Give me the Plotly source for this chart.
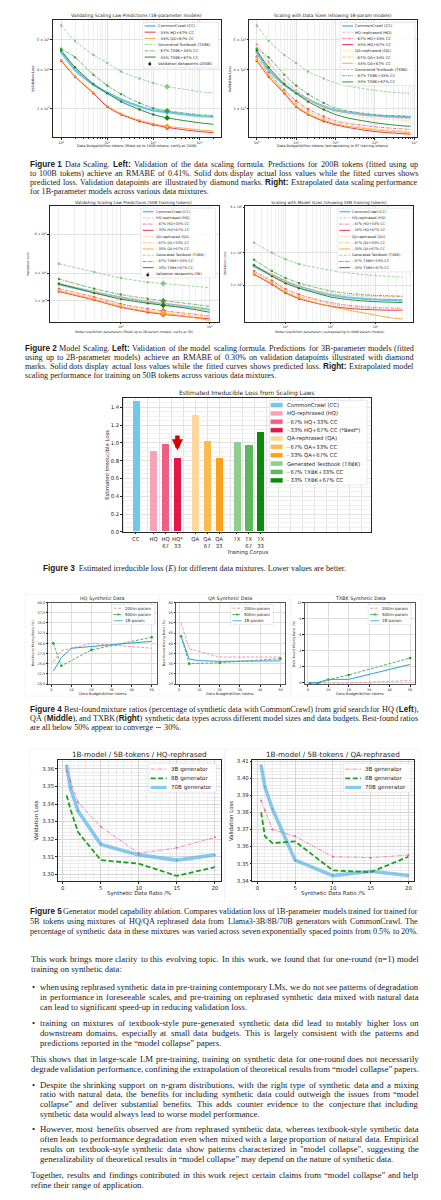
import plotly.graph_objects as go

W, H = 441, 1200
SANS = "DejaVu Sans"
SERIF = "Liberation Serif"
INK = "#262626"
GRID = "#e2e2e2"
MINOR = "#f0f0f0"

# ---------------- data ----------------
# Figure 1: validation loss vs data budget (billion tokens), 1B-param models
f1l_x = [1, 2, 5, 10, 20, 50, 100, 200, 500, 1000, 2000]
f1l_cc = [4.56, 4.00, 3.58, 3.38, 3.21, 3.05, 2.96, 2.92, 2.87, 2.84, 2.82]
f1l_hq33 = [4.28, 3.80, 3.36, 3.04, 2.87, 2.73, 2.66, 2.61, 2.56, 2.53, 2.51]
f1l_qa33 = [4.30, 3.82, 3.38, 3.06, 2.89, 2.75, 2.68, 2.63, 2.59, 2.56, 2.54]
f1l_tx = [5.56, 4.96, 4.47, 4.21, 3.95, 3.75, 3.63, 3.53, 3.46, 3.40, 3.37]
f1l_tx67 = [4.68, 4.39, 3.86, 3.56, 3.34, 3.13, 3.01, 2.95, 2.90, 2.87, 2.85]
f1l_tx33 = [4.62, 4.08, 3.60, 3.36, 3.16, 2.98, 2.87, 2.80, 2.74, 2.70, 2.67]

f1r_x = [1, 2, 5, 10, 20, 50, 100, 200, 500, 1000, 2000, 5000, 8000]
f1r_cc = [4.56, 4.00, 3.58, 3.38, 3.21, 3.05, 2.96, 2.92, 2.87, 2.85, 2.83, 2.82, 2.81]
f1r_hq = [4.84, 4.25, 3.72, 3.44, 3.23, 3.05, 2.96, 2.91, 2.86, 2.83, 2.81, 2.79, 2.78]
f1r_hq67 = [4.42, 3.92, 3.45, 3.18, 2.99, 2.83, 2.74, 2.69, 2.65, 2.62, 2.60, 2.58, 2.57]
f1r_hq33 = [4.28, 3.80, 3.36, 3.04, 2.87, 2.73, 2.66, 2.61, 2.56, 2.53, 2.51, 2.49, 2.48]
f1r_qa = [4.72, 4.18, 3.66, 3.40, 3.19, 3.01, 2.92, 2.87, 2.82, 2.79, 2.77, 2.75, 2.74]
f1r_qa67 = [4.38, 3.88, 3.41, 3.12, 2.94, 2.79, 2.71, 2.66, 2.61, 2.58, 2.56, 2.54, 2.53]
f1r_qa33 = [4.30, 3.82, 3.38, 3.06, 2.89, 2.75, 2.68, 2.63, 2.59, 2.56, 2.54, 2.52, 2.51]
f1r_tx = [5.56, 4.96, 4.47, 4.21, 3.95, 3.75, 3.63, 3.55, 3.48, 3.44, 3.40, 3.37, 3.36]
f1r_tx67 = [4.68, 4.39, 3.86, 3.56, 3.34, 3.13, 3.01, 2.95, 2.90, 2.87, 2.85, 2.84, 2.83]
f1r_tx33 = [4.62, 4.08, 3.60, 3.36, 3.16, 2.98, 2.87, 2.80, 2.74, 2.70, 2.67, 2.64, 2.63]

# Figure 2: validation loss vs model size (billion params), 50B tokens
f2l_x = [0.2, 0.5, 1, 2, 3, 5, 10]
f2l_cc = [3.55, 3.28, 3.10, 2.96, 2.90, 2.83, 2.73]
f2l_hq = [3.60, 3.30, 3.12, 2.99, 2.93, 2.86, 2.77]
f2l_hq67 = [3.40, 3.12, 2.90, 2.76, 2.70, 2.64, 2.56]
f2l_hq33 = [3.30, 3.02, 2.80, 2.66, 2.60, 2.55, 2.48]
f2l_qa = [3.58, 3.28, 3.08, 2.95, 2.89, 2.82, 2.72]
f2l_qa67 = [3.36, 3.08, 2.86, 2.72, 2.66, 2.60, 2.52]
f2l_qa33 = [3.32, 3.04, 2.82, 2.68, 2.62, 2.56, 2.44]
f2l_tx = [4.41, 4.05, 3.80, 3.64, 3.59, 3.52, 3.44]
f2l_tx67 = [3.76, 3.40, 3.20, 3.06, 3.00, 2.93, 2.83]
f2l_tx33 = [3.58, 3.25, 3.05, 2.92, 2.86, 2.79, 2.66]

f2r_x = [0.2, 0.5, 1, 2, 5, 10, 20, 50, 100, 200, 400]
f2r_cc = [3.55, 3.28, 3.10, 2.96, 2.83, 2.75, 2.70, 2.66, 2.64, 2.63, 2.62]
f2r_hq = [3.60, 3.30, 3.12, 2.99, 2.86, 2.79, 2.75, 2.73, 2.72, 2.71, 2.71]
f2r_hq67 = [3.40, 3.12, 2.90, 2.76, 2.64, 2.57, 2.52, 2.48, 2.46, 2.45, 2.44]
f2r_hq33 = [3.30, 3.02, 2.80, 2.66, 2.55, 2.49, 2.45, 2.42, 2.41, 2.40, 2.40]
f2r_qa = [3.58, 3.28, 3.08, 2.95, 2.83, 2.77, 2.74, 2.72, 2.71, 2.70, 2.70]
f2r_qa67 = [3.36, 3.08, 2.86, 2.72, 2.61, 2.54, 2.49, 2.45, 2.43, 2.41, 2.40]
f2r_qa33 = [3.32, 3.04, 2.82, 2.68, 2.56, 2.48, 2.42, 2.35, 2.30, 2.25, 2.22]
f2r_tx = [4.38, 4.00, 3.78, 3.62, 3.50, 3.42, 3.36, 3.30, 3.27, 3.24, 3.22]
f2r_tx67 = [3.76, 3.40, 3.20, 3.06, 2.93, 2.85, 2.80, 2.76, 2.74, 2.73, 2.72]
f2r_tx33 = [3.58, 3.25, 3.05, 2.92, 2.79, 2.70, 2.65, 2.61, 2.59, 2.58, 2.57]

# Figure 3: estimated irreducible loss
corpus_pos = [0, 1.5, 2.5, 3.5, 5, 6, 7, 8.5, 9.5, 10.5]
corpus_tick = ["CC", "HQ", "HQ<br>67", "HQ*<br>33", "QA", "QA<br>67", "QA<br>33",
               "TX", "TX<br>67", "TX<br>33"]
corpus_loss = [1.467, 0.90, 0.983, 0.827, 1.31, 1.013, 0.827, 1.01, 0.97, 1.117]
corpus_name = ["CommonCrawl (CC)", "HQ-rephrased (HQ)", "- 67% HQ+33% CC",
               "- 33% HQ+67% CC (*Best*)", "QA-rephrased (QA)", "- 67% QA+33% CC",
               "- 33% QA+67% CC", "Generated Textbook (TXBK)", "- 67% TXBK+33% CC",
               "- 33% TXBK+67% CC"]

# Figure 4: best-found mixing ratio (%) vs data budget
f4_x = [1, 5, 10, 20, 50]
hq_200m = [25.5, 28.2, 28.8, 30.0, 28.8]
hq_500m = [30.0, 24.5, None, 28.4, 31.5]
hq_1b = [23.2, 26.5, 28.8, 29.2, 30.5]
qa_200m = [50.0, 37.4, None, 33.3, 33.3]
qa_500m = [43.5, 30.0, None, 30.5, 32.5]
qa_1b = [43.5, 32.3, 31.5, 31.2, 31.4]
tx_200m = [0.0, 0.0, 0.0, 0.0, 0.3]
tx_500m = [0.0, 0.0, 0.4, 1.0, 3.1]
tx_1b = [0.0, 0.05, 0.45, 0.45, 2.3]

# Figure 5: generator size ablation
f5_x = [0.5, 1, 2, 5, 10, 15, 20]
hq_3b = [3.359, 3.353, 3.341, 3.327, 3.312, 3.315, 3.321]
hq_8b = [3.345, 3.337, 3.324, 3.308, 3.306, 3.299, 3.304]
hq_70b = [3.362, 3.349, 3.336, 3.317, 3.311, 3.308, 3.311]
qa_3b = [3.387, 3.381, 3.370, 3.366, 3.354, 3.3535, 3.355]
qa_8b = [3.380, 3.366, 3.362, 3.363, 3.346, 3.345, 3.354]
qa_70b = [3.4075, 3.395, 3.382, 3.352, 3.343, 3.3455, 3.343]

# page text; §...§ marks the bold sans-serif labels
cap1 = ["§Figure 1§ Data Scaling. §Left:§ Validation of the data scaling formula. Predictions for 200B tokens (fitted using up",
        "to 100B tokens) achieve an RMABE of 0.41%. Solid dots display actual loss values while the fitted curves shows",
        "predicted loss. Validation datapoints are illustrated by diamond marks. §Right:§ Extrapolated data scaling performance",
        "for 1B-parameter models across various data mixtures."]
cap2 = ["§Figure 2§ Model Scaling. §Left:§ Validation of the model scaling formula. Predictions for 3B-parameter models (fitted",
        "using up to 2B-parameter models) achieve an RMABE of 0.30% on validation datapoints illustrated with diamond",
        "marks. Solid dots display actual loss values while the fitted curves shows predicted loss. §Right:§ Extrapolated model",
        "scaling performance for training on 50B tokens across various data mixtures."]
cap3 = "§Figure 3§  Estimated irreducible loss (<i>E</i>) for different data mixtures. Lower values are better."
cap4 = ["§Figure 4§ Best-found mixture ratios (percentage of synthetic data with CommonCrawl) from grid search for HQ (§Left§),",
        "QA (§Middle§), and TXBK (§Right§) synthetic data types across different model sizes and data budgets. Best-found ratios",
        "are all below 50% appear to converge \u223c 30%."]
cap5 = ["§Figure 5§ Generator model capability ablation. Compares validation loss of 1B-parameter models trained for trained for",
        "5B tokens using mixtures of HQ/QA rephrased data from Llama3-3B/8B/70B generators with CommonCrawl. The",
        "percentage of synthetic data in these mixtures was varied across seven exponentially spaced points from 0.5% to 20%."]
body1 = ["This work brings more clarity to this evolving topic. In this work, we found that for one-round (n=1) model",
         "training on synthetic data:"]
bul1 = ["when using rephrased synthetic data in pre-training contemporary LMs, we do not see patterns of degradation",
        "in performance in foreseeable scales, and pre-training on rephrased synthetic data mixed with natural data",
        "can lead to significant speed-up in reducing validation loss."]
bul2 = ["training on mixtures of textbook-style pure-generated synthetic data did lead to notably higher loss on",
        "downstream domains, especially at small data budgets. This is largely consistent with the patterns and",
        "predictions reported in the \u201cmodel collapse\u201d papers."]
body2 = ["This shows that in large-scale LM pre-training, training on synthetic data for one-round does not necessarily",
         "degrade validation performance, confining the extrapolation of theoretical results from \u201cmodel collapse\u201d papers."]
bul3 = ["Despite the shrinking support on n-gram distributions, with the right type of synthetic data and a mixing",
        "ratio with natural data, the benefits for including synthetic data could outweigh the issues from \u201cmodel",
        "collapse\u201d and deliver substantial benefits. This adds counter evidence to the conjecture that including",
        "synthetic data would always lead to worse model performance."]
bul4 = ["However, most benefits observed are from rephrased synthetic data, whereas textbook-style synthetic data",
        "often leads to performance degradation even when mixed with a large proportion of natural data. Empirical",
        "results on textbook-style synthetic data show patterns characterized in \"model collapse\", suggesting the",
        "generalizability of theoretical results in \u201cmodel collapse\u201d may depend on the nature of synthetic data."]
body3 = ["Together, results and findings contributed in this work reject certain claims from \u201cmodel collapse\u201d and help",
         "refine their range of application."]

# ---------------- styles ----------------
STY = {
    "CC": dict(color="#6cc4e8", width=2.2, dash="solid"),
    "HQ": dict(color="#f59ab3", width=0.8, dash="3px,1.5px"),
    "HQ67": dict(color="#e94f7c", width=0.8, dash="3px,1px,1px,1px"),
    "HQ33": dict(color="#dc1d45", width=0.9, dash="solid"),
    "QA": dict(color="#ffd28c", width=0.8, dash="3px,1.5px"),
    "QA67": dict(color="#f7b54a", width=0.8, dash="3px,1px,1px,1px"),
    "QA33": dict(color="#ffa318", width=0.9, dash="solid"),
    "TX": dict(color="#7ccd7c", width=0.8, dash="3px,1.5px"),
    "TX67": dict(color="#36a336", width=0.8, dash="3px,1px,1px,1px"),
    "TX33": dict(color="#17801a", width=0.9, dash="solid"),
}
NAME = {"CC": "CommonCrawl (CC)", "HQ": "HQ-rephrased (HQ)", "HQ67": "- 67% HQ+33% CC",
        "HQ33": "- 33% HQ+67% CC", "QA": "QA-rephrased (QA)", "QA67": "- 67% QA+33% CC",
        "QA33": "- 33% QA+67% CC", "TX": "Generated Textbook (TXBK)",
        "TX67": "- 67% TXBK+33% CC", "TX33": "- 33% TXBK+67% CC"}
BAR_COL = ["#72c8ea", "#f5a3b5", "#ee5f85", "#e3174a", "#ffd79d", "#fbbc4d", "#fba21c",
           "#8fce8f", "#5db75d", "#0b8a0b"]

fig = go.Figure()
LAY = {}
SHAPES = []
ANN = []


def pid(i):
    return ("x" if i == 1 else f"x{i}", "y" if i == 1 else f"y{i}")


def axes(i, bx, by, xkw, ykw, tick=3.5):
    xid, yid = pid(i)
    suf = "" if i == 1 else str(i)
    base = dict(showline=True, mirror=True, linecolor=INK, linewidth=0.6, ticks="outside",
                ticklen=1.8, tickwidth=0.5, tickcolor=INK, showgrid=True, gridcolor=GRID,
                gridwidth=0.5, zeroline=False, fixedrange=True,
                tickfont=dict(family=SANS, size=tick, color=INK))
    xa = dict(base, domain=[bx[0] / W, bx[1] / W], anchor=yid)
    xa.update(xkw)
    ya = dict(base, domain=[1 - by[1] / H, 1 - by[0] / H], anchor=xid)
    ya.update(ykw)
    LAY["xaxis" + suf] = xa
    LAY["yaxis" + suf] = ya


def T(x, y, s, size, fam=SANS, anchor="center", angle=0, color=INK):
    ANN.append(dict(x=x / W, y=1 - y / H, xref="paper", yref="paper", text=s, showarrow=False,
                    xanchor=anchor, yanchor="middle", textangle=angle, borderpad=0,
                    borderwidth=0, font=dict(family=fam, size=size, color=color)))


def frame(x0, y0, x1, y1, color="#d4d4d4", fill="rgba(255,255,255,0.85)", layer="above"):
    SHAPES.append(dict(type="rect", xref="paper", yref="paper", x0=x0 / W, x1=x1 / W,
                       y0=1 - y1 / H, y1=1 - y0 / H, fillcolor=fill,
                       line=dict(color=color, width=0.5), layer=layer))


def seg(x0, x1, y, color, width, dash="solid", opacity=1):
    SHAPES.append(dict(type="line", xref="paper", yref="paper", x0=x0 / W, x1=x1 / W,
                       y0=1 - y / H, y1=1 - y / H, opacity=opacity, layer="above",
                       line=dict(color=color, width=width, dash=dash)))


def dot(cx, cy, r, color):
    SHAPES.append(dict(type="circle", xref="paper", yref="paper", x0=(cx - r) / W,
                       x1=(cx + r) / W, y0=1 - (cy + r) / H, y1=1 - (cy - r) / H,
                       fillcolor=color, line=dict(width=0), layer="above"))


def line(i, x, y, color, width, dash="solid", shape="spline", msize=0, mcolor=None,
         opacity=1, mode="lines", symbol="circle", err=None):
    xid, yid = pid(i)
    fig.add_trace(go.Scatter(x=x, y=y, xaxis=xid, yaxis=yid, mode=mode, opacity=opacity,
                             line=dict(color=color, width=width, dash=dash, shape=shape,
                                       smoothing=0.6),
                             marker=dict(size=msize, color=mcolor or color, symbol=symbol),
                             error_y=err, connectgaps=True, showlegend=False,
                             hoverinfo="skip"))


def log_minor(lo, hi):
    return [m * 10 ** e for e in range(lo, hi) for m in range(2, 10)]


def sup(e):
    return f"10<sup>{e}</sup>"


def scaling_panel(i, xs, series, n_fit, check, legend_box, lx, ly0, extra_label=None,
                  lsize=3.8):
    for key, ys in series:
        st = STY[key]
        line(i, xs, ys, st["color"], st["width"], st["dash"])
    for key, ys in series:
        st = STY[key]
        line(i, xs[:n_fit], ys[:n_fit], st["color"], 0, mode="markers", msize=2.4)
        if check is not None:
            line(i, [xs[check]], [ys[check]], st["color"], 0, mode="markers", msize=4.5,
                 symbol="diamond",
                 err=dict(type="percent", value=1.2, color=st["color"], thickness=0.8,
                          width=0))
    frame(*legend_box)
    for k, (key, ys) in enumerate(series):
        st = STY[key]
        y = ly0 + 6.25 * k
        seg(lx, lx + 11, y, st["color"], min(st["width"], 1.6), st["dash"])
        T(lx + 13, y, NAME[key], lsize, anchor="left")
    if extra_label:
        y = ly0 + 6.25 * len(series) + 0.5
        seg(lx + 5.5, lx + 5.5, y, INK, 0.6)
        SHAPES[-1].update(y0=1 - (y + 2.2) / H, y1=1 - (y - 2.2) / H)
        T(lx + 5.5, y, "\u25c6", 4.2, anchor="center", color="#111")
        T(lx + 13, y, extra_label, lsize, anchor="left")


# ---------------- Figure 1 ----------------
axes(1, (45, 213), (10, 128),
     dict(type="log", range=[-0.18, 3.46], tickvals=[1, 10, 100, 1000],
          ticktext=[sup(e) for e in range(4)],
          minor=dict(tickvals=log_minor(0, 4), showgrid=True, gridcolor=MINOR, ticks="outside",
                     ticklen=1, tickcolor=INK)),
     dict(type="log", range=[0.384, 0.763], tickvals=[3, 4, 5],
          ticktext=[f"{m} \u00d7 10<sup>0</sup>" for m in (3, 4, 5)]), tick=3.3)
scaling_panel(1, f1l_x,
              [("CC", f1l_cc), ("HQ33", f1l_hq33), ("QA33", f1l_qa33), ("TX", f1l_tx),
               ("TX67", f1l_tx67), ("TX33", f1l_tx33)],
              7, 7, (135, 12.5, 211, 58), 137, 16, "Validation datapoints (200B)")
axes(2, (242, 410), (10, 128),
     dict(type="log", range=[-0.185, 4.07], tickvals=[1, 10, 100, 1000, 10000],
          ticktext=[sup(e) for e in range(5)],
          minor=dict(tickvals=log_minor(0, 5), showgrid=True, gridcolor=MINOR, ticks="outside",
                     ticklen=1, tickcolor=INK)),
     dict(type="log", range=[0.384, 0.763], tickvals=[3, 4, 5],
          ticktext=[f"{m} \u00d7 10<sup>0</sup>" for m in (3, 4, 5)]), tick=3.3)
scaling_panel(2, f1r_x,
              [("CC", f1r_cc), ("HQ", f1r_hq), ("HQ67", f1r_hq67), ("HQ33", f1r_hq33),
               ("QA", f1r_qa), ("QA67", f1r_qa67), ("QA33", f1r_qa33), ("TX", f1r_tx),
               ("TX67", f1r_tx67), ("TX33", f1r_tx33)],
              6, None, (333, 12.5, 408, 76), 335, 16)
T(129, 6, "Validating Scaling Law Predictions (1B-parameter models)", 4.5)
T(326, 6, "Scaling with Data Sizes (showing 1B-param models)", 4.5)
T(129, 137, "Data Budget/billion tokens (fitted up to 100B tokens; verify at 200B)", 3.5)
T(326, 137, "Data Budget/billion tokens (extrapolating to 8T training tokens)", 3.5)
T(25, 69, "Validation Loss", 3.5, angle=-90)
T(222, 69, "Validation Loss", 3.5, angle=-90)

# ---------------- Figure 2 ----------------
axes(3, (42, 211), (197, 313),
     dict(type="log", range=[-0.80, 1.10], tickvals=[1, 10], ticktext=[sup(0), sup(1)],
          minor=dict(tickvals=log_minor(-1, 2), showgrid=True, gridcolor=MINOR, ticks="outside",
                     ticklen=1, tickcolor=INK)),
     dict(type="log", range=[0.382, 0.905], tickvals=[3, 4, 6],
          ticktext=[f"{m} \u00d7 10<sup>0</sup>" for m in (3, 4, 6)]), tick=3.1)
scaling_panel(3, f2l_x,
              [("CC", f2l_cc), ("HQ", f2l_hq), ("HQ67", f2l_hq67), ("HQ33", f2l_hq33),
               ("QA", f2l_qa), ("QA67", f2l_qa67), ("QA33", f2l_qa33), ("TX", f2l_tx),
               ("TX67", f2l_tx67), ("TX33", f2l_tx33)],
              4, 4, (133, 199, 208, 269), 135, 202.5, "Validation datapoints (3B)", lsize=3.5)
axes(4, (238, 406), (197, 313),
     dict(type="log", range=[-0.89, 2.84], tickvals=[1, 10, 100],
          ticktext=[sup(0), sup(1), sup(2)],
          minor=dict(tickvals=log_minor(-1, 3), showgrid=True, gridcolor=MINOR, ticks="outside",
                     ticklen=1, tickcolor=INK)),
     dict(type="log", range=[0.336, 0.782], tickvals=[3, 4, 6],
          ticktext=[f"{m} \u00d7 10<sup>0</sup>" for m in (3, 4, 6)]), tick=3.1)
scaling_panel(4, f2r_x,
              [("CC", f2r_cc), ("HQ", f2r_hq), ("HQ67", f2r_hq67), ("HQ33", f2r_hq33),
               ("QA", f2r_qa), ("QA67", f2r_qa67), ("QA33", f2r_qa33), ("TX", f2r_tx),
               ("TX67", f2r_tx67), ("TX33", f2r_tx33)],
              4, None, (330, 199, 405, 263), 332, 202.5, lsize=3.5)
T(126, 193, "Validating Scaling Law Predictions (50B training tokens)", 4.2)
T(322, 193, "Scaling with Model Sizes (showing 50B training tokens)", 4.2)
T(126, 323, "Model size/billion parameters (fitted up to 2B-param models; verify at 3B)", 3.2)
T(322, 323, "Model size/billion parameters (extrapolating to 400B-param models)", 3.2)
T(20, 255, "Validation Loss", 3.2, angle=-90)
T(217, 255, "Validation Loss", 3.2, angle=-90)

# ---------------- Figure 3 ----------------
axes(5, (115, 364), (390, 524),
     dict(range=[-1.1, 19.8], tickvals=corpus_pos, ticktext=corpus_tick, showgrid=False,
          minor=dict(dtick=1, tick0=0, showgrid=True, gridcolor=GRID)),
     dict(range=[0, 1.5], dtick=0.2, tickformat=".1f",
          minor=dict(dtick=0.05, showgrid=True, gridcolor=MINOR)), tick=5.3)
fig.add_trace(go.Bar(x=corpus_pos, y=corpus_loss, width=0.6, marker=dict(color=BAR_COL, line=dict(width=0)),
                     xaxis="x5", yaxis="y5", showlegend=False, hoverinfo="skip"))
ANN.append(dict(x=3.5, y=0.915, xref="x5", yref="y5", ax=3.5, ay=1.10, axref="x5",
                ayref="y5", text="", showarrow=True, arrowhead=2, arrowsize=0.5,
                arrowwidth=4.5, arrowcolor="#d40000"))
frame(262, 392, 360, 477)
for k, (nm, col) in enumerate(zip(corpus_name, BAR_COL)):
    y = 396.7 + 8.4 * k
    frame(263.5, y - 2, 275, y + 2, color=col, fill=col)
    T(280, y, nm, 5.3, anchor="left")
T(240, 385, "Estimated Irreducible Loss from Scaling Laws", 6.0)
T(240, 545, "Training Corpus", 5.3)
T(99, 457, "Estimated Irreducible Loss", 5.3, angle=-90)

# ---------------- Figure 4 ----------------
for (x0, x1) in [(17, 150), (152, 282), (284, 415)]:
    frame(x0, 587, x1, 689, color="#ececec", fill="rgba(0,0,0,0)", layer="below")
f4_axis = dict(range=[-1.45, 52.45], dtick=10, gridcolor="#dcdcdc", linecolor="#555")
axes(6, (40.5, 149), (595, 677), dict(f4_axis),
     dict(range=[20, 40], dtick=2.5, tickformat=".1f", gridcolor="#dcdcdc", linecolor="#555"),
     tick=3.4)
axes(7, (168.5, 278), (595, 677), dict(f4_axis),
     dict(range=[20, 60], dtick=5, gridcolor="#dcdcdc", linecolor="#555"), tick=3.4)
axes(8, (297.5, 408), (595, 677), dict(f4_axis),
     dict(range=[-0.15, 10], dtick=2, gridcolor="#dcdcdc", linecolor="#555"), tick=3.4)
C200, C500, C1B = "#f07a98", "#2ca02c", "#2b9fd9"
for i, (a, b, c) in zip((6, 7, 8), [(hq_200m, hq_500m, hq_1b), (qa_200m, qa_500m, qa_1b),
                                    (tx_200m, tx_500m, tx_1b)]):
    line(i, f4_x, a, C200, 0.8, "3px,1.5px", shape="linear")
    line(i, f4_x, b, C500, 0.8, "3px,1.5px", shape="linear", mode="lines+markers", msize=2.6)
    line(i, f4_x, c, C1B, 1.0, shape="linear")
for (cx, lx, title) in [(95, 104, "HQ Synthetic Data"), (223, 223, "QA Synthetic Data"),
                        (353, 361, "TXBK Synthetic Data")]:
    T(cx, 591, title, 4.8)
    T(cx, 686.5, "Data Budget/billion tokens", 3.6)
    frame(lx, 597, lx + 43, 617)
    for k, (nm, col, ds) in enumerate([("200m-param", C200, "3px,1.5px"),
                                       ("500m-param", C500, "3px,1.5px"),
                                       ("1B-param", C1B, "solid")]):
        y = 600.7 + 6.3 * k
        seg(lx + 2, lx + 11, y, col, 0.8, ds)
        if k == 1:
            dot(lx + 6.5, y, 1.1, col)
        T(lx + 13.5, y, nm, 4.0, anchor="left")
for x in (25, 157, 287):
    T(x, 636, "Best-found Mixing Ratio (%)", 3.3, angle=-90)

# ---------------- Figure 5 ----------------
frame(22, 742, 217, 895, color="#ececec", fill="rgba(0,0,0,0)", layer="below")
frame(218, 742, 412, 895, color="#ececec", fill="rgba(0,0,0,0)", layer="below")
f5x = dict(range=[-0.65, 20.75], dtick=5, gridcolor="#d6d6d6",
           minor=dict(dtick=1, showgrid=True, gridcolor="#ececec"))
axes(9, (50, 213), (753, 875), dict(f5x),
     dict(range=[3.2959, 3.3652], dtick=0.01, tickformat=".2f", gridcolor="#d6d6d6",
          minor=dict(dtick=0.002, showgrid=True, gridcolor="#ececec")), tick=5.4)
axes(10, (245, 407), (753, 875), dict(f5x),
     dict(range=[3.3396, 3.4108], dtick=0.01, tickformat=".2f", gridcolor="#d6d6d6",
          minor=dict(dtick=0.002, showgrid=True, gridcolor="#ececec")), tick=5.4)
C3, C8, C70 = "#ee5c88", "#1f9e1f", "#61b9e8"
for i, (a, b, c) in zip((9, 10), [(hq_3b, hq_8b, hq_70b), (qa_3b, qa_8b, qa_70b)]):
    line(i, f5_x, c, C70, 3.6, shape="linear", opacity=0.75, mode="lines+markers", msize=2,
         mcolor="#3a8fc4")
    line(i, f5_x, b, C8, 1.8, "5px,2.5px", shape="linear")
    line(i, f5_x, a, C3, 0.7, "4px,1.2px,1px,1.2px", shape="linear", mode="lines+markers",
         msize=2)
for (cx, lx, title) in [(131.5, 141, "1B-model / 5B-tokens / HQ-rephrased"),
                        (326, 336, "1B-model / 5B-tokens / QA-rephrased")]:
    T(cx, 748, title, 7.2)
    T(cx, 887, "Synthetic Data Ratio /%", 5.4)
    frame(lx, 756.5, lx + 68, 785.5)
    for k, (nm, col, w, ds, op) in enumerate([("3B generator", C3, 0.7, "4px,1.2px,1px,1.2px", 1),
                                              ("8B generator", C8, 1.8, "5px,2.5px", 1),
                                              ("70B generator", C70, 3.2, "solid", 0.75)]):
        y = 762.3 + 9.2 * k
        seg(lx + 2, lx + 18, y, col, w, ds, op)
        T(lx + 22, y, nm, 5.6, anchor="left")
T(28, 814, "Validation Loss", 5.4, angle=-90)
T(223, 814, "Validation Loss", 5.4, angle=-90)

# ---------------- captions and body text (justified word by word) ----------------
# advance widths (1/1000 em): Liberation Serif (Times metrics) and Liberation Sans Bold
TW = dict(zip("abcdefghijklmnopqrstuvwxyz",
              [444, 500, 444, 500, 444, 333, 500, 500, 278, 278, 500, 278, 778, 500, 500, 500,
               500, 333, 389, 278, 500, 500, 722, 500, 500, 444]))
TW.update(zip("ABCDEFGHIJKLMNOPQRSTUVWXYZ",
              [722, 667, 667, 722, 611, 556, 722, 722, 333, 389, 722, 611, 889, 722, 722, 556,
               722, 667, 556, 611, 722, 722, 944, 722, 722, 611]))
TW.update({c: 500 for c in "0123456789"})
TW.update({".": 250, ",": 250, ":": 278, ";": 278, "(": 333, ")": 333, "-": 333, "/": 278,
           "%": 833, "\"": 408, "\u201c": 444, "\u201d": 444, "*": 500, "=": 564,
           "\u223c": 541, "+": 564})
BW = {"F": 611, "i": 278, "g": 611, "u": 611, "r": 389, "e": 556, "L": 611, "f": 333,
      "t": 333, ":": 333, "R": 722, "h": 611, "M": 833, "d": 611, "l": 278, " ": 278}
BW.update({c: 556 for c in "0123456789"})
TXT = "#1a1a1a"


def em_width(word):
    bold, w = False, 0.0
    for ch in word:
        if ch == "§":
            bold = not bold
            continue
        w += (BW.get(ch, 600) if bold else TW.get(ch, 500)) / 1000
    return w


def to_html(s):
    parts = s.split("§")
    return "".join(f'<span style="font-family:Liberation Sans"><b>{p}</b></span>' if k % 2 else p
                   for k, p in enumerate(parts))


def words(s):
    # keep bold labels like "Figure 1" together
    toks, cur, bold = [], "", False
    for ch in s:
        if ch == "§":
            bold = not bold
        if ch == " " and not bold:
            if cur:
                toks.append(cur)
            cur = ""
        else:
            cur += ch
    if cur:
        toks.append(cur)
    return toks


def fit_size(specs, cap):
    best = cap
    for x0, x1, ln in specs:
        ws = words(ln)
        need = sum(em_width(w) for w in ws) + 0.22 * (len(ws) - 1)
        best = min(best, (x1 - x0) / need)
    return best


def block(x0, x1, y0, step, lines, size, natural_last=True):
    for k, ln in enumerate(lines):
        y = y0 + step * k
        if natural_last and k == len(lines) - 1:
            T(x0, y, to_html(ln), size, fam=SERIF, anchor="left", color=TXT)
            continue
        ws = words(ln)
        wd = [em_width(w) * size for w in ws]
        gap = (x1 - x0 - sum(wd)) / (len(ws) - 1)
        pos = x0
        for j, (w, d) in enumerate(zip(ws, wd)):
            if j == 0:
                T(x0, y, to_html(w), size, fam=SERIF, anchor="left", color=TXT)
            elif j == len(ws) - 1:
                T(x1, y, to_html(w), size, fam=SERIF, anchor="right", color=TXT)
            else:
                T(pos + d / 2, y, to_html(w), size, fam=SERIF, color=TXT)
            pos += d + gap


CAPS = [(22, 411, cap1[:3]), (17, 407, cap2[:3]), (22, 411, cap4[:2]), (22, 411, cap5)]
cap_size = fit_size([(a, b, ln) for a, b, lns in CAPS for ln in lns], 8.6)
BODYS = [(23, 412, body1[:1]), (32, 412, bul1[:2]), (32, 412, bul2[:2]), (23, 412, body2),
         (32, 412, bul3[:3]), (32, 412, bul4[:3]), (23, 412, body3[:1])]
body_size = fit_size([(a, b, ln) for a, b, lns in BODYS for ln in lns], 9.4)

block(22, 411, 155, 9.1, cap1, cap_size)
block(17, 407, 340, 9.1, cap2, cap_size)
T(35, 561, to_html(cap3), cap_size, fam=SERIF, anchor="left", color=TXT)
block(22, 411, 702, 9.2, cap4, cap_size)
block(22, 411, 905, 10, cap5, cap_size, natural_last=False)

block(23, 412, 953, 10.3, body1, body_size)
for y0, lines in [(981, bul1), (1017, bul2), (1079, bul3), (1124, bul4)]:
    T(26, y0, "\u2022", body_size, fam=SERIF, color=TXT)
    block(32, 412, y0, 10, lines, body_size)
block(23, 412, 1053, 10, body2, body_size, natural_last=False)
block(23, 412, 1170, 10, body3, body_size)

fig.update_layout(width=W, height=H, margin=dict(l=0, r=0, t=0, b=0), paper_bgcolor="white",
                  plot_bgcolor="white", showlegend=False, shapes=SHAPES, annotations=ANN,
                  bargap=0, **LAY)
fig.write_html("out.html")
